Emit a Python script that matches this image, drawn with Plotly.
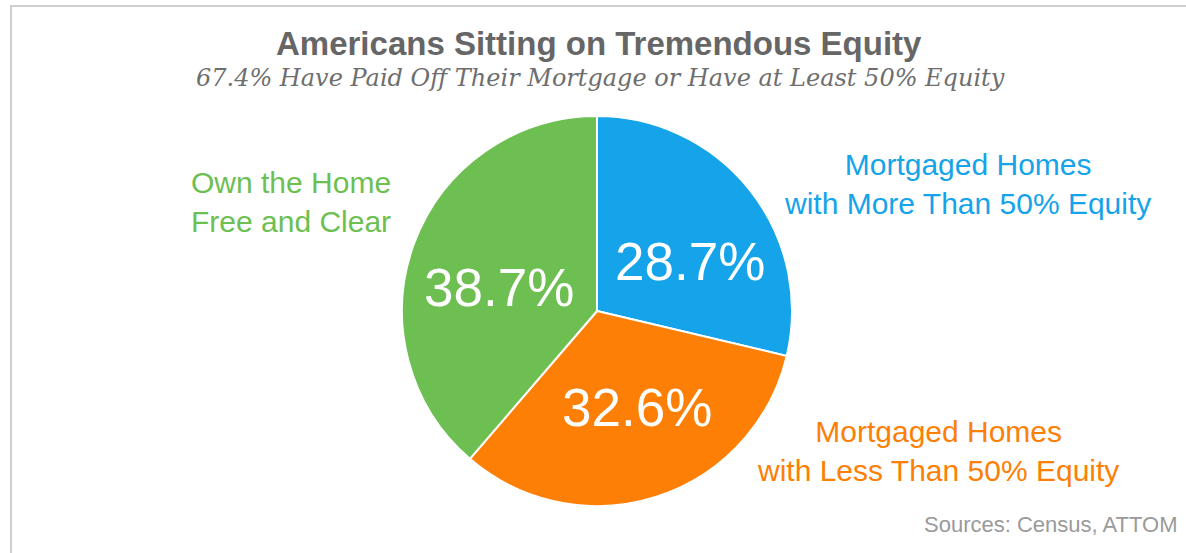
import plotly.graph_objects as go

W, H = 1186, 553

categories = ["Mortgaged Homes<br>with More Than 50% Equity",
              "Mortgaged Homes<br>with Less Than 50% Equity",
              "Own the Home<br>Free and Clear"]
values = [28.7, 32.6, 38.7]
colors = ["#15a3e9", "#fd7f05", "#6dbf51"]

title = "Americans Sitting on Tremendous Equity"
subtitle = "67.4% Have Paid Off Their Mortgage or Have at Least 50% Equity"
source = "Sources: Census, ATTOM"

cx, cy, r = 597, 311, 195

fig = go.Figure(go.Pie(
    values=values,
    labels=categories,
    marker=dict(colors=colors, line=dict(color="white", width=2)),
    sort=False,
    direction="clockwise",
    rotation=0,
    textinfo="none",
    hoverinfo="label+value",
    showlegend=False,
    domain=dict(x=[(cx - r) / W, (cx + r) / W], y=[1 - (cy + r) / H, 1 - (cy - r) / H]),
))


def px(x):
    return x / W


def py(y):
    return 1 - y / H


annotations = []
# percentage labels inside slices
pct_pos = [(690, 261), (637, 407), (499, 287)]
for (x, y), v in zip(pct_pos, values):
    annotations.append(dict(x=px(x), y=py(y), xref="paper", yref="paper",
                            xanchor="center", yanchor="middle",
                            text=f"{v}%", showarrow=False,
                            font=dict(family="Liberation Sans, Arial", size=53, color="white")))

# outside category labels
label_pos = [(967, 184), (938, 451), (291, 202)]
for (lx, ly), cat, col in zip(label_pos, categories, colors):
    annotations.append(dict(x=px(lx), y=py(ly), xref="paper", yref="paper",
                            xanchor="center", yanchor="middle",
                            text=cat, showarrow=False, align="center",
                            font=dict(family="Liberation Sans, Arial", size=30, color=col)))

annotations.append(dict(x=px(599), y=py(43), xref="paper", yref="paper", text=f"<b>{title}</b>",
                        showarrow=False, xanchor="center", yanchor="middle",
                        font=dict(family="Liberation Sans, Arial", size=33, color="#666666")))
annotations.append(dict(x=px(600), y=py(78), xref="paper", yref="paper", text=f"<i>{subtitle}</i>",
                        showarrow=False, xanchor="center", yanchor="middle",
                        font=dict(family="DejaVu Serif, Georgia, serif", size=24, color="#6e6e6e")))
annotations.append(dict(x=px(1180), y=py(524), xref="paper", yref="paper", text=source,
                        showarrow=False, xanchor="right", yanchor="middle",
                        font=dict(family="Liberation Sans, Arial", size=22, color="#9a9a9a")))

shapes = [dict(type="rect", xref="paper", yref="paper",
               x0=px(11), x1=px(1195), y0=py(580), y1=py(6),
               line=dict(color="#cfcfcf", width=2), fillcolor="rgba(0,0,0,0)", layer="below")]

fig.update_layout(
    width=W, height=H,
    margin=dict(l=0, r=0, t=0, b=0),
    paper_bgcolor="white",
    plot_bgcolor="white",
    annotations=annotations,
    shapes=shapes,
)

fig.write_html("out.html")
